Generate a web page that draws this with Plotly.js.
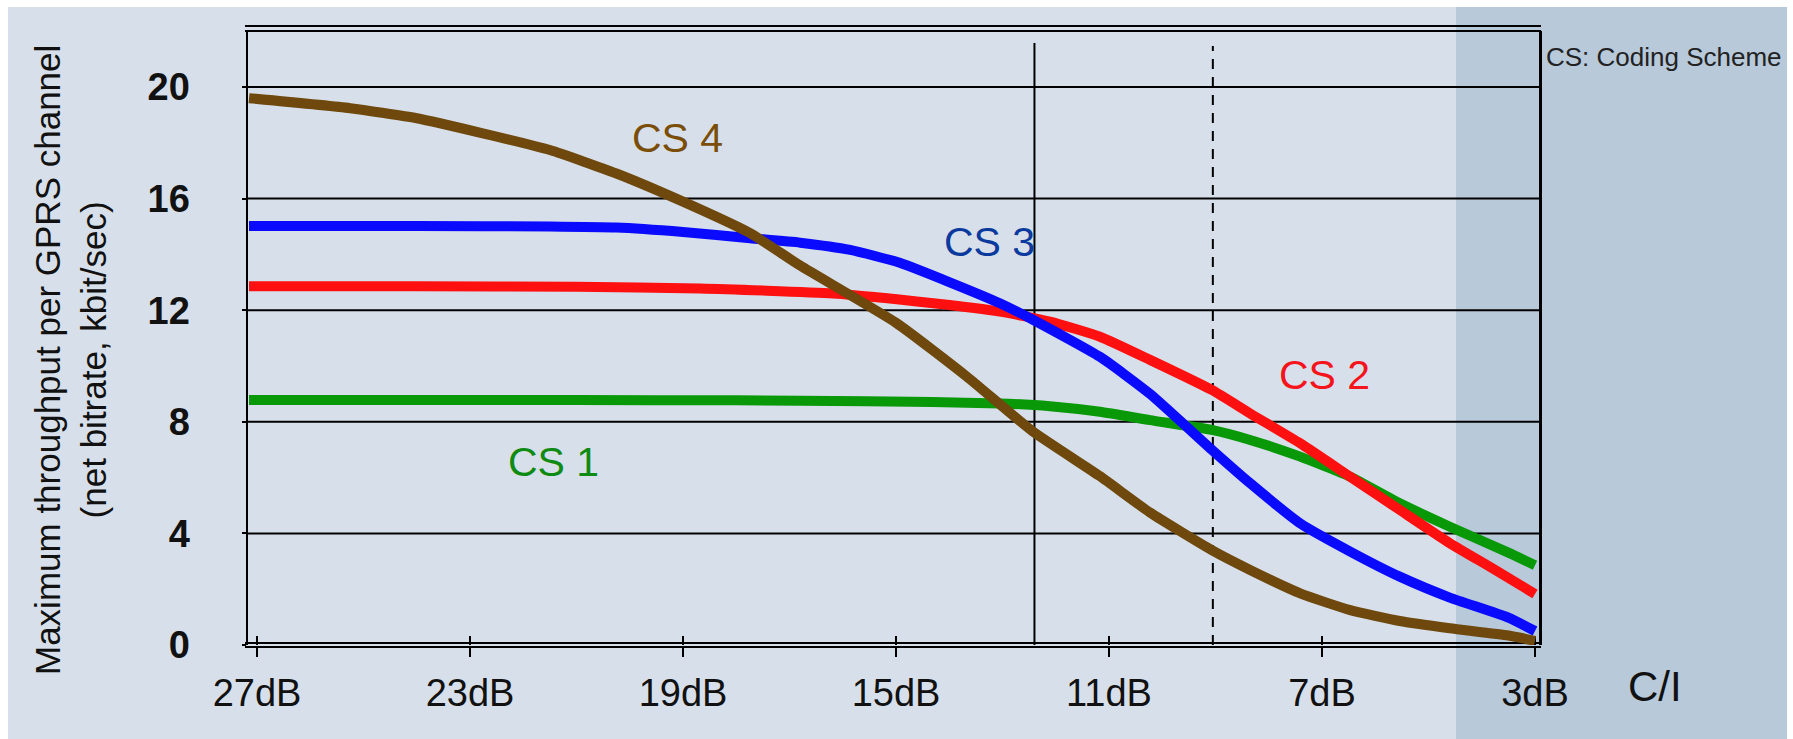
<!DOCTYPE html>
<html>
<head>
<meta charset="utf-8">
<script src="https://cdn.plot.ly/plotly-3.0.1.min.js"></script>
<style>
  html, body { margin: 0; padding: 0; background: #ffffff; }
  #chart { width: 1793px; height: 739px; }
</style>
</head>
<body>
<div id="chart"></div>
<script>
// ---------- data ----------
const xTickVals = [27, 23, 19, 15, 11, 7, 3];
const xTickText = ['27dB', '23dB', '19dB', '15dB', '11dB', '7dB', '3dB'];
const yTickVals = [0, 4, 8, 12, 16, 20];
const yTickText = ['0', '4', '8', '12', '16', '20'];

// C/I in dB, throughput in kbit/s
const cs1X = [27.15, 24, 21, 18, 15.55, 13.05, 12.11, 11.17, 10.23, 9.07, 8.35, 7.41, 6.47, 5.54, 4.6, 3.5, 3.0];
const cs1Y = [8.78, 8.78, 8.78, 8.77, 8.74, 8.66, 8.56, 8.36, 8.06, 7.71, 7.35, 6.75, 6.03, 5.08, 4.24, 3.31, 2.86];

const cs2X = [27.15, 24, 21, 18.68, 16.18, 14.3, 13.05, 12.11, 11.17, 10.23, 9.07, 8.35, 7.41, 6.47, 5.54, 4.6, 3.8, 3.0];
const cs2Y = [12.86, 12.86, 12.84, 12.78, 12.6, 12.25, 11.95, 11.59, 11.05, 10.22, 9.14, 8.3, 7.23, 6.03, 4.84, 3.65, 2.75, 1.83];

const cs3X = [27.15, 24, 21.5, 20.25, 19.0, 17.74, 16.8, 15.86, 14.93, 13.99, 13.05, 12.42, 11.17, 10.23, 9.07, 8.35, 7.41, 6.47, 5.54, 4.6, 3.5, 3.0];
const cs3Y = [15.02, 15.02, 15.0, 14.96, 14.8, 14.58, 14.42, 14.16, 13.7, 13.0, 12.25, 11.65, 10.33, 9.0, 7.0, 5.8, 4.36, 3.35, 2.45, 1.7, 0.98, 0.5];

const cs4X = [27.15, 25.25, 24.0, 22.76, 21.5, 20.25, 19.0, 17.74, 16.8, 15.0, 13.67, 12.43, 11.17, 10.23, 9.07, 8.35, 7.41, 6.47, 5.54, 4.6, 3.5, 3.0];
const cs4Y = [19.6, 19.24, 18.88, 18.34, 17.74, 16.9, 15.89, 14.76, 13.6, 11.55, 9.62, 7.65, 6.05, 4.75, 3.4, 2.69, 1.85, 1.25, 0.86, 0.6, 0.34, 0.15];

const seriesNames = ['CS 1', 'CS 2', 'CS 3', 'CS 4'];
const refLines = [12.4, 9.05];   // solid, dashed reference C/I values

// ---------- layout helpers ----------
const W = 1793, H = 739, L = 248, R = 254, T = 31, B = 94;
const pw = W - L - R, ph = H - T - B;
const px2x = px => (px - L) / pw;
const py2y = py => (H - B - py) / ph;

const FONT = 'Liberation Sans, Arial, sans-serif';
const lineColors = ['#089808', '#ff1010', '#0a0aff', '#6e480c'];
const labelColors = ['#0f8a12', '#f5141c', '#0b3a9e', '#7a4d08'];

const traces = [[cs1X, cs1Y], [cs2X, cs2Y], [cs3X, cs3Y], [cs4X, cs4Y]].map((s, i) => ({
  type: 'scatter', mode: 'lines', name: seriesNames[i],
  x: s[0], y: s[1],
  line: { color: lineColors[i], width: 10, shape: 'spline', smoothing: 0.5 },
  hoverinfo: 'skip', showlegend: false
}));

const shapes = [];
// background panels
shapes.push({ type: 'rect', xref: 'paper', yref: 'paper', layer: 'below',
  x0: px2x(8), x1: px2x(1787), y0: py2y(739), y1: py2y(7),
  fillcolor: '#d7e0ea', line: { width: 0 } });
shapes.push({ type: 'rect', xref: 'paper', yref: 'paper', layer: 'below',
  x0: px2x(1456), x1: px2x(1787), y0: py2y(739), y1: py2y(7),
  fillcolor: '#b8c9da', line: { width: 0 } });
// horizontal gridlines
yTickVals.filter(v => v > 0).forEach(v => shapes.push({
  type: 'line', xref: 'paper', yref: 'y', layer: 'below',
  x0: 0, x1: 1, y0: v, y1: v, line: { color: '#000', width: 2 } }));
// top and bottom double lines
[26, 31, 643, 647].forEach(py => shapes.push({
  type: 'line', xref: 'paper', yref: 'paper', layer: 'below',
  x0: px2x(245), x1: px2x(1541), y0: py2y(py), y1: py2y(py),
  line: { color: '#000', width: 2 } }));
// inner part of x ticks
xTickVals.forEach(v => shapes.push({
  type: 'line', xref: 'x', yref: 'paper', layer: 'below',
  x0: v, x1: v, y0: 0, y1: py2y(636), line: { color: '#000', width: 2 } }));
// reference vertical lines
shapes.push({ type: 'line', xref: 'x', yref: 'paper', layer: 'below',
  x0: refLines[0], x1: refLines[0], y0: 0, y1: py2y(43), line: { color: '#000', width: 2 } });
shapes.push({ type: 'line', xref: 'x', yref: 'paper', layer: 'below',
  x0: refLines[1], x1: refLines[1], y0: 0, y1: py2y(46), line: { color: '#000', width: 2, dash: '10px,8px' } });

const labelPos = [[21.44, 6.56], [6.96, 9.68], [13.25, 14.44], [19.11, 18.17]];
const annotations = seriesNames.map((n, i) => ({
  text: n, xref: 'x', yref: 'y', x: labelPos[i][0], y: labelPos[i][1],
  showarrow: false, xanchor: 'center', yanchor: 'middle',
  font: { family: FONT, size: 41, color: labelColors[i] }
}));
annotations.push({
  text: 'Maximum throughput per GPRS channel<br>(net bitrate, kbit/sec)',
  xref: 'paper', yref: 'paper', x: px2x(70), y: py2y(360), textangle: -90,
  showarrow: false, xanchor: 'center', yanchor: 'middle', align: 'center',
  font: { family: FONT, size: 35, color: '#111' }
});
annotations.push({
  text: 'C/I', xref: 'paper', yref: 'paper', x: px2x(1655), y: py2y(686),
  showarrow: false, xanchor: 'center', yanchor: 'middle',
  font: { family: FONT, size: 42, color: '#111' }
});
annotations.push({
  text: 'CS: Coding Scheme', xref: 'paper', yref: 'paper', x: px2x(1544), y: py2y(57),
  showarrow: false, xanchor: 'left', yanchor: 'middle',
  font: { family: FONT, size: 26, color: '#222' }
});

const layout = {
  width: W, height: H,
  margin: { l: L, r: R, t: T, b: B, pad: 0 },
  paper_bgcolor: '#ffffff', plot_bgcolor: 'rgba(0,0,0,0)',
  showlegend: false,
  xaxis: {
    range: [27 + (257 - L) / 53.25, 3 - (L + pw - 1535) / 53.25],
    tickmode: 'array', tickvals: xTickVals, ticktext: xTickText,
    ticks: 'outside', ticklen: 11, tickwidth: 2, tickcolor: '#000',
    showgrid: false, zeroline: false, showline: false,
    ticklabelstandoff: 3,
    tickfont: { family: FONT, size: 38, color: '#111' }
  },
  yaxis: {
    range: [0, ph / 27.9],
    tickmode: 'array', tickvals: yTickVals, ticktext: yTickText,
    ticks: 'outside', ticklen: 4, tickwidth: 2, tickcolor: '#000',
    showgrid: false, zeroline: false,
    showline: true, mirror: true, linecolor: '#000', linewidth: 2.5,
    ticklabelstandoff: 44,
    tickfont: { family: FONT, size: 38, color: '#111', weight: 'bold' }
  },
  shapes: shapes,
  annotations: annotations
};

Plotly.newPlot('chart', traces, layout, { staticPlot: true, displayModeBar: false });
</script>
</body>
</html>
